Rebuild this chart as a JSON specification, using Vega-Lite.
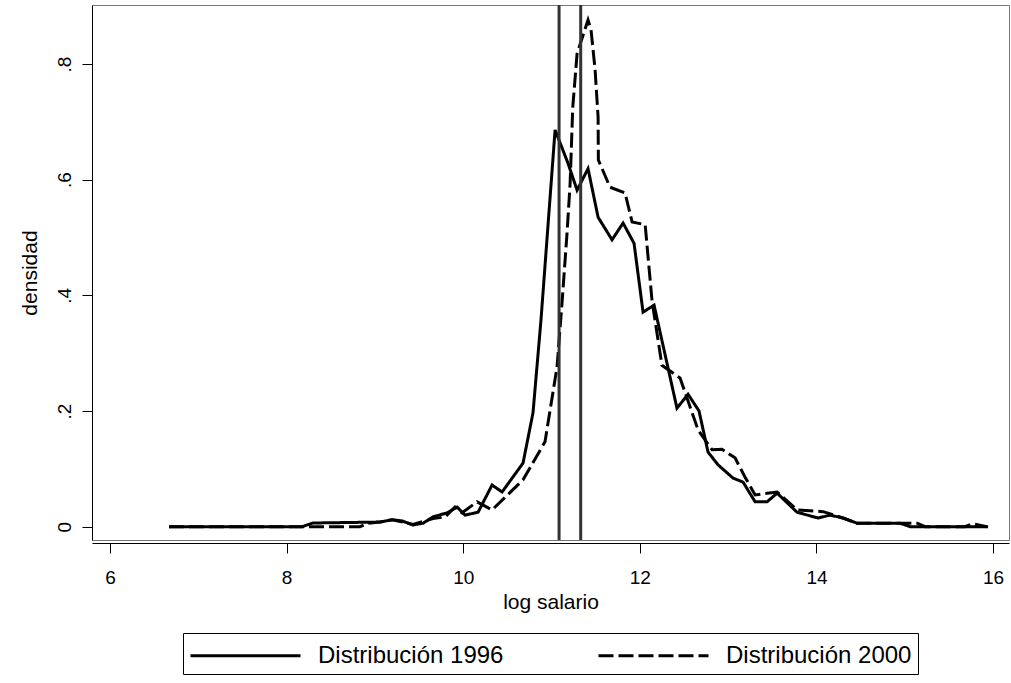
{
  "$schema": "https://vega.github.io/schema/vega-lite/v6.json",
  "width": 917,
  "height": 535,
  "autosize": {"type": "none"},
  "padding": {"left": 92, "top": 5, "right": 2, "bottom": 143},
  "background": "white",
  "config": {
    "font": "Liberation Sans",
    "view": {"stroke": "#777777", "strokeWidth": 1},
    "axis": {
      "grid": false,
      "domainColor": "black",
      "domainWidth": 1,
      "tickColor": "black",
      "tickWidth": 1,
      "tickSize": 10,
      "labelColor": "black",
      "titleColor": "black",
      "labelFont": "Liberation Sans",
      "titleFont": "Liberation Sans",
      "titleFontWeight": "normal",
      "labelFontSize": 19,
      "titleFontSize": 21
    },
    "legend": {"labelFont": "Liberation Sans"}
  },
  "datasets": {
    "curvas": [
      {"x": 6.668, "y": 0, "serie": "Distribución 1996"},
      {"x": 8.174, "y": 0, "serie": "Distribución 1996"},
      {"x": 8.299, "y": 0.0064, "serie": "Distribución 1996"},
      {"x": 9.058, "y": 0.008, "serie": "Distribución 1996"},
      {"x": 9.194, "y": 0.012, "serie": "Distribución 1996"},
      {"x": 9.307, "y": 0.01, "serie": "Distribución 1996"},
      {"x": 9.431, "y": 0.003, "serie": "Distribución 1996"},
      {"x": 9.545, "y": 0.006, "serie": "Distribución 1996"},
      {"x": 9.658, "y": 0.017, "serie": "Distribución 1996"},
      {"x": 9.817, "y": 0.024, "serie": "Distribución 1996"},
      {"x": 9.93, "y": 0.034, "serie": "Distribución 1996"},
      {"x": 10.02, "y": 0.02, "serie": "Distribución 1996"},
      {"x": 10.168, "y": 0.025, "serie": "Distribución 1996"},
      {"x": 10.326, "y": 0.072, "serie": "Distribución 1996"},
      {"x": 10.44, "y": 0.06, "serie": "Distribución 1996"},
      {"x": 10.677, "y": 0.11, "serie": "Distribución 1996"},
      {"x": 10.79, "y": 0.197, "serie": "Distribución 1996"},
      {"x": 10.88, "y": 0.357, "serie": "Distribución 1996"},
      {"x": 11.04, "y": 0.686, "serie": "Distribución 1996"},
      {"x": 11.187, "y": 0.628, "serie": "Distribución 1996"},
      {"x": 11.289, "y": 0.582, "serie": "Distribución 1996"},
      {"x": 11.413, "y": 0.619, "serie": "Distribución 1996"},
      {"x": 11.527, "y": 0.535, "serie": "Distribución 1996"},
      {"x": 11.685, "y": 0.496, "serie": "Distribución 1996"},
      {"x": 11.81, "y": 0.525, "serie": "Distribución 1996"},
      {"x": 11.934, "y": 0.49, "serie": "Distribución 1996"},
      {"x": 12.036, "y": 0.371, "serie": "Distribución 1996"},
      {"x": 12.161, "y": 0.383, "serie": "Distribución 1996"},
      {"x": 12.42, "y": 0.205, "serie": "Distribución 1996"},
      {"x": 12.546, "y": 0.229, "serie": "Distribución 1996"},
      {"x": 12.67, "y": 0.2, "serie": "Distribución 1996"},
      {"x": 12.772, "y": 0.129, "serie": "Distribución 1996"},
      {"x": 12.885, "y": 0.107, "serie": "Distribución 1996"},
      {"x": 13.055, "y": 0.084, "serie": "Distribución 1996"},
      {"x": 13.169, "y": 0.077, "serie": "Distribución 1996"},
      {"x": 13.305, "y": 0.043, "serie": "Distribución 1996"},
      {"x": 13.44, "y": 0.043, "serie": "Distribución 1996"},
      {"x": 13.554, "y": 0.058, "serie": "Distribución 1996"},
      {"x": 13.78, "y": 0.025, "serie": "Distribución 1996"},
      {"x": 14.018, "y": 0.015, "serie": "Distribución 1996"},
      {"x": 14.154, "y": 0.02, "serie": "Distribución 1996"},
      {"x": 14.3, "y": 0.015, "serie": "Distribución 1996"},
      {"x": 14.46, "y": 0.006, "serie": "Distribución 1996"},
      {"x": 14.947, "y": 0.006, "serie": "Distribución 1996"},
      {"x": 15.06, "y": 0.0, "serie": "Distribución 1996"},
      {"x": 15.943, "y": 0.0, "serie": "Distribución 1996"},

      {"x": 6.668, "y": 0, "serie": "Distribución 2000"},
      {"x": 8.83, "y": 0, "serie": "Distribución 2000"},
      {"x": 8.92, "y": 0.006, "serie": "Distribución 2000"},
      {"x": 9.058, "y": 0.008, "serie": "Distribución 2000"},
      {"x": 9.194, "y": 0.012, "serie": "Distribución 2000"},
      {"x": 9.431, "y": 0.004, "serie": "Distribución 2000"},
      {"x": 9.658, "y": 0.014, "serie": "Distribución 2000"},
      {"x": 9.794, "y": 0.017, "serie": "Distribución 2000"},
      {"x": 9.907, "y": 0.034, "serie": "Distribución 2000"},
      {"x": 9.986, "y": 0.024, "serie": "Distribución 2000"},
      {"x": 10.156, "y": 0.043, "serie": "Distribución 2000"},
      {"x": 10.326, "y": 0.029, "serie": "Distribución 2000"},
      {"x": 10.677, "y": 0.081, "serie": "Distribución 2000"},
      {"x": 10.926, "y": 0.147, "serie": "Distribución 2000"},
      {"x": 11.062, "y": 0.276, "serie": "Distribución 2000"},
      {"x": 11.12, "y": 0.39, "serie": "Distribución 2000"},
      {"x": 11.175, "y": 0.507, "serie": "Distribución 2000"},
      {"x": 11.21, "y": 0.593, "serie": "Distribución 2000"},
      {"x": 11.24, "y": 0.725, "serie": "Distribución 2000"},
      {"x": 11.289, "y": 0.818, "serie": "Distribución 2000"},
      {"x": 11.413, "y": 0.876, "serie": "Distribución 2000"},
      {"x": 11.447, "y": 0.859, "serie": "Distribución 2000"},
      {"x": 11.493, "y": 0.79, "serie": "Distribución 2000"},
      {"x": 11.527, "y": 0.708, "serie": "Distribución 2000"},
      {"x": 11.53, "y": 0.634, "serie": "Distribución 2000"},
      {"x": 11.662, "y": 0.587, "serie": "Distribución 2000"},
      {"x": 11.832, "y": 0.577, "serie": "Distribución 2000"},
      {"x": 11.912, "y": 0.527, "serie": "Distribución 2000"},
      {"x": 12.06, "y": 0.522, "serie": "Distribución 2000"},
      {"x": 12.138, "y": 0.39, "serie": "Distribución 2000"},
      {"x": 12.25, "y": 0.279, "serie": "Distribución 2000"},
      {"x": 12.455, "y": 0.257, "serie": "Distribución 2000"},
      {"x": 12.66, "y": 0.167, "serie": "Distribución 2000"},
      {"x": 12.818, "y": 0.133, "serie": "Distribución 2000"},
      {"x": 12.93, "y": 0.134, "serie": "Distribución 2000"},
      {"x": 13.078, "y": 0.119, "serie": "Distribución 2000"},
      {"x": 13.19, "y": 0.086, "serie": "Distribución 2000"},
      {"x": 13.305, "y": 0.055, "serie": "Distribución 2000"},
      {"x": 13.554, "y": 0.06, "serie": "Distribución 2000"},
      {"x": 13.78, "y": 0.029, "serie": "Distribución 2000"},
      {"x": 14.075, "y": 0.026, "serie": "Distribución 2000"},
      {"x": 14.3, "y": 0.015, "serie": "Distribución 2000"},
      {"x": 14.46, "y": 0.006, "serie": "Distribución 2000"},
      {"x": 15.14, "y": 0.006, "serie": "Distribución 2000"},
      {"x": 15.23, "y": 0, "serie": "Distribución 2000"},
      {"x": 15.68, "y": 0, "serie": "Distribución 2000"},
      {"x": 15.77, "y": 0.005, "serie": "Distribución 2000"},
      {"x": 15.93, "y": 0, "serie": "Distribución 2000"}
    ],
    "verticales": [
      {"x": 11.085},
      {"x": 11.33}
    ]
  },
  "layer": [
    {
      "data": {"name": "curvas"},
      "mark": {"type": "line", "strokeWidth": 3, "color": "black"},
      "encoding": {
        "x": {
          "field": "x",
          "type": "quantitative",
          "scale": {"domain": [5.796, 16.18], "nice": false, "zero": false},
          "axis": {
            "values": [6, 8, 10, 12, 14, 16],
            "format": "d",
            "title": "log salario",
            "offset": 3,
            "labelPadding": 15,
            "titlePadding": 4
          }
        },
        "y": {
          "field": "y",
          "type": "quantitative",
          "scale": {"domain": [-0.023, 0.902], "nice": false, "zero": false},
          "axis": {
            "values": [0, 0.2, 0.4, 0.6, 0.8],
            "title": "densidad",
            "labelExpr": "datum.value == 0 ? '0' : replace(format(datum.value, '.1f'), '0.', '.')",
            "labelAngle": -90,
            "labelAlign": "center",
            "labelBaseline": "bottom",
            "labelPadding": 8,
            "titlePadding": 15
          }
        },
        "strokeDash": {
          "field": "serie",
          "type": "nominal",
          "scale": {
            "domain": ["Distribución 1996", "Distribución 2000"],
            "range": [[1, 0], [15, 5]]
          },
          "legend": {
            "title": null,
            "orient": "none",
            "legendX": 91,
            "legendY": 628,
            "direction": "horizontal",
            "symbolType": "M-3.667,0H3.667",
            "symbolSize": 900,
            "symbolOffset": 40,
            "symbolStrokeWidth": 3,
            "symbolStrokeColor": "black",
            "labelFontSize": 24,
            "labelColor": "black",
            "labelOffset": 56,
            "labelLimit": 400,
            "columnPadding": 88,
            "padding": 6,
            "strokeColor": "black",
            "fillColor": "white"
          }
        }
      }
    },
    {
      "data": {"name": "verticales"},
      "mark": {"type": "rule", "color": "#333333", "strokeWidth": 3},
      "encoding": {
        "x": {"field": "x", "type": "quantitative"}
      }
    }
  ]
}
